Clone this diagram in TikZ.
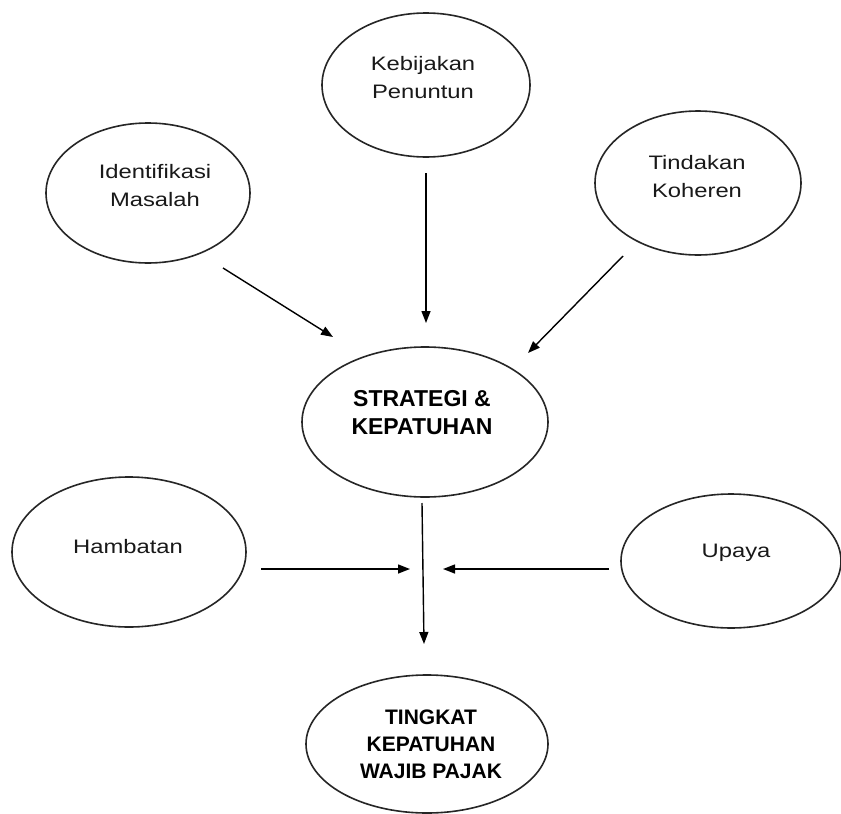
\documentclass[tikz,border=0pt]{standalone}
\usepackage{fontspec}
\setmainfont{Liberation Sans}
\newfontfamily\widefont[FakeStretch=1.22]{Liberation Sans}
\usetikzlibrary{shapes.geometric,arrows.meta}
\begin{document}
\begin{tikzpicture}[x=1pt,y=-1pt,
  oval/.style={draw=black!85, line width=1.6pt, ellipse, inner sep=0pt},
  lbl/.style={align=center, inner sep=0pt, font=\widefont\fontsize{19.5}{28}\selectfont, text=black!90},
  blbl/.style={align=center, inner sep=0pt, font=\bfseries\fontsize{23}{28}\selectfont},
  blbs/.style={align=center, inner sep=0pt, font=\bfseries\fontsize{21}{27}\selectfont},
  arr/.style={-{Triangle[length=12pt,width=9pt]}, line width=1.4pt}]
\useasboundingbox (0,0) rectangle (841,814);
\fill[white] (0,0) rectangle (841,814);

% ellipses
\node[oval, minimum width=208pt, minimum height=144pt] (keb) at (426,85) {};
\node[oval, minimum width=204pt, minimum height=140pt] (idn) at (148,193) {};
\node[oval, minimum width=206pt, minimum height=144pt] (tin) at (698,183) {};
\node[oval, minimum width=246pt, minimum height=150pt] (str) at (425,422) {};
\node[oval, minimum width=234pt, minimum height=150pt] (ham) at (129,552) {};
\node[oval, minimum width=220pt, minimum height=134pt] (upa) at (731,561) {};
\node[oval, minimum width=242pt, minimum height=138pt] (tkt) at (427,744) {};

% texts
\node[lbl] (tkeb) at (423,78) {Kebijakan\\Penuntun};
\node[lbl] (tidn) at (155,186) {Identifikasi\\Masalah};
\node[lbl] (ttin) at (697,177) {Tindakan\\Koheren};
\node[lbl] (tham) at (128,547) {Hambatan};
\node[lbl] (tupa) at (736,553) {Upaya};
\node[blbl] (tstr) at (422,413) {STRATEGI \&\\KEPATUHAN};
\node[blbs] (ttkt) at (431,744) {TINGKAT\\KEPATUHAN\\WAJIB PAJAK};

% connector end points
\coordinate (a1s) at (223,268); \coordinate (a1e) at (333,337);
\coordinate (a2s) at (426,173); \coordinate (a2e) at (426,323);
\coordinate (a3s) at (623,256); \coordinate (a3e) at (528,353);
\coordinate (a4s) at (422,503); \coordinate (a4e) at (424,644);
\coordinate (a5s) at (261,569); \coordinate (a5e) at (410,569);
\coordinate (a6s) at (609,569); \coordinate (a6e) at (443,569);

\draw[arr] (a1s) -- (a1e);
\draw[arr] (a2s) -- (a2e);
\draw[arr] (a3s) -- (a3e);
\draw[arr] (a4s) -- (a4e);
\draw[arr] (a5s) -- (a5e);
\draw[arr] (a6s) -- (a6e);
\end{tikzpicture}
\end{document}
